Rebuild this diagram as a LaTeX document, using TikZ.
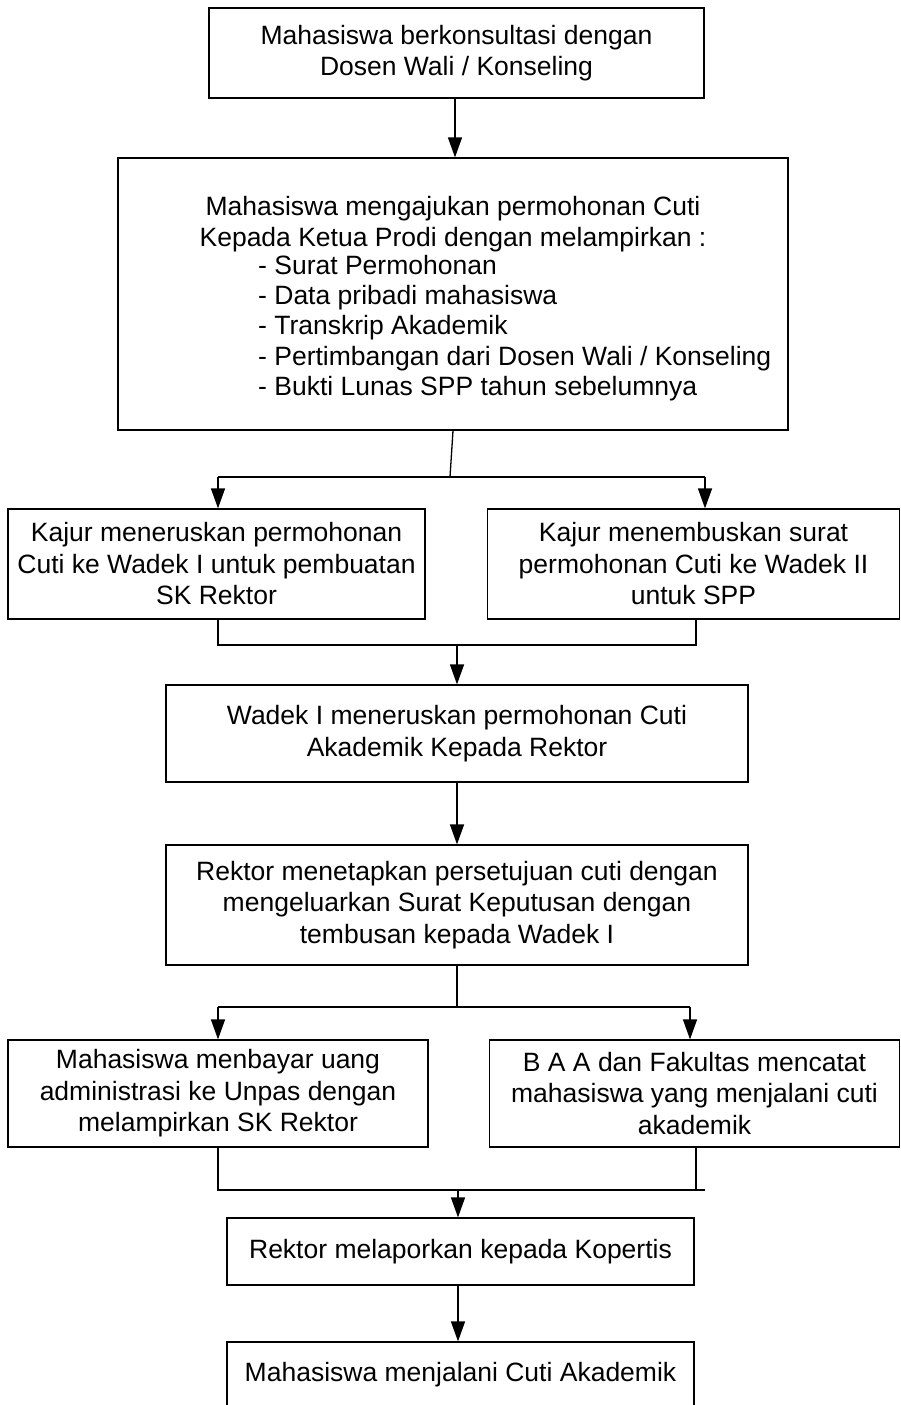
\documentclass[tikz,border=0pt]{standalone}
\usepackage{fontspec}
\setmainfont{Liberation Sans}
\usetikzlibrary{arrows.meta}
\begin{document}
\begin{tikzpicture}[x=1pt,y=-1pt,
  txt/.style={font=\fontsize{26.5}{31.5}\selectfont},
  stepbox/.style={draw,line width=1.2pt,rectangle,align=center,inner sep=0pt,txt},
  link/.style={draw,line width=1.3pt},
  arr/.style={link,-{Triangle[length=20pt,width=14pt]}}]
\useasboundingbox (0,0) rectangle (901,1405);
% boxes (centre, width, height)
\node[stepbox,minimum width=495pt,minimum height=90pt] (b1) at (456.5,53)
  {Mahasiswa berkonsultasi dengan\\Dosen Wali / Konseling};
\node[stepbox,minimum width=670pt,minimum height=272pt] (b2) at (453,294) {};
\node[txt,align=center,inner sep=0pt] (b2a) at (453,224)
  {Mahasiswa mengajukan permohonan Cuti\\Kepada Ketua Prodi dengan melampirkan :};
\node[txt,align=left,inner sep=0pt,anchor=west,font=\fontsize{26.5}{30.2}\selectfont] (b2b) at (258,328)
  {- Surat Permohonan\\- Data pribadi mahasiswa\\- Transkrip Akademik\\- Pertimbangan dari Dosen Wali / Konseling\\- Bukti Lunas SPP tahun sebelumnya};
\node[stepbox,minimum width=417pt,minimum height=110pt] (b3) at (216.5,564)
  {Kajur meneruskan permohonan\\Cuti ke Wadek I untuk pembuatan\\SK Rektor};
\node[stepbox,minimum width=412pt,minimum height=110pt] (b4) at (693.5,564)
  {Kajur menembuskan surat\\permohonan Cuti ke Wadek II\\untuk SPP};
\node[stepbox,minimum width=582pt,minimum height=97pt] (b5) at (457,733.5)
  {Wadek I meneruskan permohonan Cuti\\Akademik Kepada Rektor};
\node[stepbox,minimum width=582pt,minimum height=120pt] (b6) at (457,905)
  {Rektor menetapkan persetujuan cuti dengan\\mengeluarkan Surat Keputusan dengan\\tembusan kepada Wadek I};
\node[stepbox,minimum width=420pt,minimum height=107pt] (b7) at (218,1093.5)
  {Mahasiswa menbayar uang\\administrasi ke Unpas dengan\\melampirkan SK Rektor};
\node[stepbox,minimum width=410pt,minimum height=107pt] (b8) at (694.5,1093.5)
  {B A A dan Fakultas mencatat\\mahasiswa yang menjalani cuti\\akademik};
\node[stepbox,minimum width=467pt,minimum height=67pt] (b9) at (460.5,1251.5)
  {Rektor melaporkan kepada Kopertis};
% the last box runs on past the lower edge of the page
\node[stepbox,minimum width=467pt,minimum height=66pt] (b10) at (460.5,1375)
  {Mahasiswa menjalani Cuti Akademik};
% junction points
\coordinate (c1) at (455,0);
\coordinate (j1) at (450,477);
\coordinate (j1l) at (218,477);
\coordinate (j1r) at (705,477);
\coordinate (j2) at (457,645);
\coordinate (j2l) at (218,645);
\coordinate (j2r) at (696,645);
\coordinate (j3) at (457,1007);
\coordinate (j3l) at (218,1007);
\coordinate (j3r) at (690,1007);
\coordinate (j4) at (458,1190);
\coordinate (j4l) at (218,1190);
\coordinate (j4r) at (696,1190);
\coordinate (j4e) at (705,1190);
% connectors
\draw[arr] (b1.south -| c1) -- (b2.north -| c1);
\draw[link] (b2.south) -- (j1);
\draw[link] (j1l) -- (j1r);
\draw[arr] (j1l) -- (j1l |- b3.north);
\draw[arr] (j1r) -- (j1r |- b4.north);
\draw[link] (j2l |- b3.south) -- (j2l) -- (j2r) -- (j2r |- b4.south);
\draw[arr] (j2) -- (j2 |- b5.north);
\draw[arr] (b5.south) -- (b6.north);
\draw[link] (b6.south) -- (j3);
\draw[link] (j3l) -- (j3r);
\draw[arr] (j3l) -- (j3l |- b7.north);
\draw[arr] (j3r) -- (j3r |- b8.north);
\draw[link] (j4l |- b7.south) -- (j4l) -- (j4e);
\draw[link] (j4r |- b8.south) -- (j4r);
\draw[arr] (j4) -- (j4 |- b9.north);
\draw[arr] (b9.south -| j4) -- (j4 |- b10.north);
\end{tikzpicture}
\end{document}
